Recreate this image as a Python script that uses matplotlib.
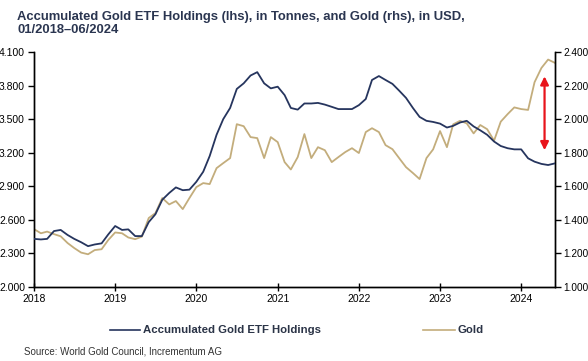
import pandas as pd
import matplotlib
matplotlib.use("Agg")
import matplotlib.pyplot as plt
import matplotlib.dates as mdates
from matplotlib.ticker import FuncFormatter, FixedLocator

# monthly data, 01/2018 - 06/2024
months = pd.date_range("2018-01-01", "2024-06-01", freq="MS")

etf_tonnes = [
    # 2018
    2430, 2425, 2430, 2500, 2510, 2465, 2430, 2400, 2365, 2380, 2390, 2470,
    # 2019
    2545, 2510, 2515, 2455, 2455, 2580, 2650, 2780, 2840, 2890, 2865, 2870,
    # 2020
    2940, 3030, 3170, 3360, 3500, 3600, 3770, 3820, 3890, 3920, 3820, 3775,
    # 2021
    3790, 3715, 3600, 3585, 3640, 3640, 3645, 3630, 3610, 3590, 3590, 3590,
    # 2022
    3625, 3680, 3850, 3885, 3850, 3815, 3755, 3690, 3600, 3520, 3485, 3475,
    # 2023
    3460, 3425, 3440, 3470, 3485, 3435, 3400, 3360, 3300, 3260, 3240, 3230,
    # 2024
    3230, 3150, 3120, 3100, 3090, 3105,
]

gold_usd = [
    # 2018
    1345, 1320, 1330, 1315, 1302, 1262, 1232, 1205, 1195, 1220, 1225, 1280,
    # 2019
    1325, 1320, 1295, 1285, 1300, 1411, 1440, 1530, 1492, 1512, 1464, 1530,
    # 2020
    1595, 1619, 1613, 1708, 1738, 1768, 1970, 1958, 1893, 1887, 1768, 1893,
    # 2021
    1863, 1744, 1700, 1774, 1911, 1768, 1833, 1815, 1744, 1774, 1804, 1827,
    # 2022
    1798, 1923, 1946, 1923, 1845, 1821, 1768, 1714, 1679, 1643, 1768, 1820,
    # 2023
    1929, 1833, 1969, 1990, 1975, 1915, 1965, 1940, 1872, 1985, 2030, 2070,
    # 2024
    2060, 2055, 2220, 2305, 2355, 2335,
]

etf_ticks = [2000, 2300, 2600, 2900, 3200, 3500, 3800, 4100]
gold_ticks = [1000, 1200, 1400, 1600, 1800, 2000, 2200, 2400]

etf_label = "Accumulated Gold ETF Holdings"
gold_label = "Gold"
title = ("Accumulated Gold ETF Holdings (lhs), in Tonnes, and Gold (rhs), in USD,\n"
         "01/2018\u201306/2024")
source = "Source: World Gold Council, Incrementum AG"

navy = "#26355e"
khaki = "#c3ad7c"
text_col = "#2b3447"

plt.rcParams["font.family"] = ["Liberation Sans Narrow", "Liberation Sans", "DejaVu Sans"]


def dot_thousands(v, pos):
    return f"{v:,.0f}".replace(",", ".")


fig = plt.figure(figsize=(5.88, 3.61), dpi=100)
ax = fig.add_axes([34 / 588, 74 / 361, 521 / 588, 235 / 361])
ax2 = ax.twinx()

ax.plot(months, etf_tonnes, color=navy, lw=1.3, zorder=3)
ax2.plot(months, gold_usd, color=khaki, lw=1.3)
ax.set_zorder(ax2.get_zorder() + 1)
ax.patch.set_visible(False)

ax.set_xlim(pd.Timestamp("2018-01-01"), pd.Timestamp("2024-06-01"))
ax.set_ylim(etf_ticks[0], etf_ticks[-1])
ax2.set_ylim(gold_ticks[0], gold_ticks[-1])
ax.yaxis.set_major_locator(FixedLocator(etf_ticks))
ax2.yaxis.set_major_locator(FixedLocator(gold_ticks))
ax.yaxis.set_major_formatter(FuncFormatter(dot_thousands))
ax2.yaxis.set_major_formatter(FuncFormatter(dot_thousands))
ax.xaxis.set_major_locator(mdates.YearLocator())
ax.xaxis.set_major_formatter(mdates.DateFormatter("%Y"))

for a in (ax, ax2):
    a.spines["top"].set_visible(False)
    for s in ("left", "right", "bottom"):
        a.spines[s].set_linewidth(1.0)
        a.spines[s].set_color("black")
ax.tick_params(axis="y", direction="out", length=4, width=1, labelsize=7.5, pad=2.5, colors="black")
ax2.tick_params(axis="y", direction="out", length=4, width=1, labelsize=7.2, pad=2, colors="black")
ax.tick_params(axis="x", direction="inout", length=6, width=1, labelsize=7.5, pad=2)

# red double arrow showing the divergence
ax2.annotate("", xy=(pd.Timestamp("2024-04-15"), 2255), xytext=(pd.Timestamp("2024-04-15"), 1815),
             arrowprops=dict(arrowstyle="<|-|>", color="#e8141b", lw=1.6,
                             mutation_scale=12, shrinkA=0, shrinkB=0))

fig.text(17 / 588, 1 - 11 / 361, title, ha="left", va="top", fontsize=9.4, fontweight="bold",
         color="#2a3550", family=["Liberation Sans", "DejaVu Sans"], linespacing=1.1)

# legend below the plot
fig.lines.append(plt.Line2D([110 / 588, 140 / 588], [1 - 330 / 361] * 2, color=navy, lw=1.2,
                            transform=fig.transFigure))
fig.text(143 / 588, 1 - 330 / 361, etf_label, ha="left", va="center", fontsize=8.2,
         fontweight="bold", color=text_col, family=["Liberation Sans", "DejaVu Sans"])
fig.lines.append(plt.Line2D([423 / 588, 455 / 588], [1 - 330 / 361] * 2, color=khaki, lw=1.2,
                            transform=fig.transFigure))
fig.text(458 / 588, 1 - 330 / 361, gold_label, ha="left", va="center", fontsize=8.2,
         fontweight="bold", color=text_col, family=["Liberation Sans", "DejaVu Sans"])

fig.text(24 / 588, 1 - 352 / 361, source, ha="left", va="center", fontsize=7, color="#333333")

fig.savefig("out.png", dpi=100)
